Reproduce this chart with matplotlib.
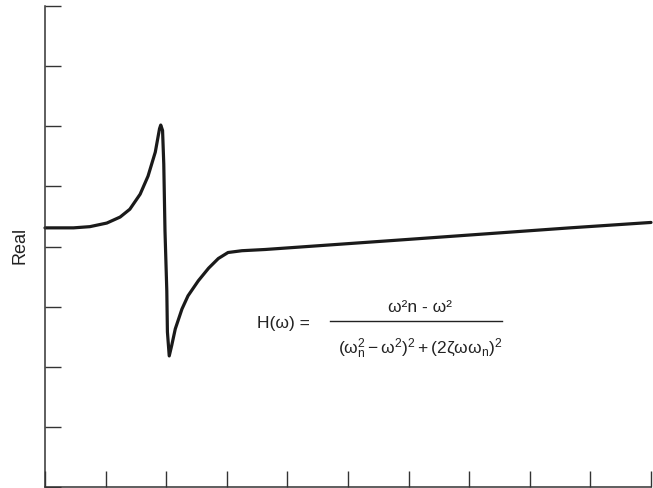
import matplotlib
matplotlib.use("Agg")
import matplotlib.pyplot as plt

# curve (x: 0..10 ticks, y: -4..4 ticks)
freq = [0.0, 0.47, 0.74, 1.02, 1.24, 1.40, 1.57, 1.70, 1.82, 1.89, 1.91, 1.94,
        1.96, 1.98, 2.01, 2.02, 2.05, 2.09, 2.15, 2.26, 2.36, 2.53, 2.70, 2.86, 3.02,
        3.25, 3.63, 6.02, 8.66, 10.0]
real = [0.31, 0.31, 0.33, 0.39, 0.49, 0.62, 0.87, 1.17, 1.57, 1.96, 2.02, 1.93,
        1.37, 0.26, -0.74, -1.42, -1.82, -1.65, -1.37, -1.04, -0.82, -0.57, -0.36, -0.20, -0.10,
        -0.07, -0.05, 0.12, 0.31, 0.40]
xticks = list(range(0, 11))
yticks = list(range(-4, 5))

plt.rcParams["font.family"] = ["Liberation Sans", "DejaVu Sans"]
plt.rcParams["mathtext.fontset"] = "custom"
plt.rcParams["mathtext.rm"] = "Liberation Sans"
plt.rcParams["mathtext.it"] = "Liberation Sans"
INK = "#222222"

fig = plt.figure(figsize=(6.53, 4.89), dpi=100)
ax = fig.add_axes([45 / 653, 1 / 489, 606 / 653, 481 / 489])
ax.plot(freq, real, color="#1a1a1a", lw=2.3, solid_joinstyle="round",
        solid_capstyle="round", clip_on=False)

ax.set_xlim(0, 10)
ax.set_ylim(-4, 4)
ax.set_xticks(xticks)
ax.set_yticks(yticks)
ax.set_xticklabels([])
ax.set_yticklabels([])
ax.tick_params(direction="in", length=11.5, width=1.0, color="#333333")
for s in ("top", "right"):
    ax.spines[s].set_visible(False)
for s in ("left", "bottom"):
    ax.spines[s].set_color("#333333")
    ax.spines[s].set_linewidth(1.1)

fig.text(20 / 653, 1 - 245 / 489, "Real", rotation=90, ha="center", va="center",
         fontsize=13, color=INK)

# equation
fig.text(283 / 653, 1 - 324 / 489, "H(ω) =", ha="center", va="center",
         fontsize=12.5, color=INK)
fig.text(420 / 653, 1 - 307 / 489, "ω²n - ω²",
         ha="center", va="center", fontsize=12.5, color=INK)
fig.add_artist(plt.Line2D([330 / 653, 502 / 653], [1 - 322 / 489, 1 - 322 / 489],
                          color=INK, lw=1.0))
fig.text(420 / 653, 1 - 349 / 489,
         r"$\mathregular{(\omega_n^2 - \omega^2)^2 + (2\zeta\omega\omega_n)^2}$",
         ha="center", va="center", fontsize=12.5, color=INK)

fig.savefig("out.png", dpi=100)
